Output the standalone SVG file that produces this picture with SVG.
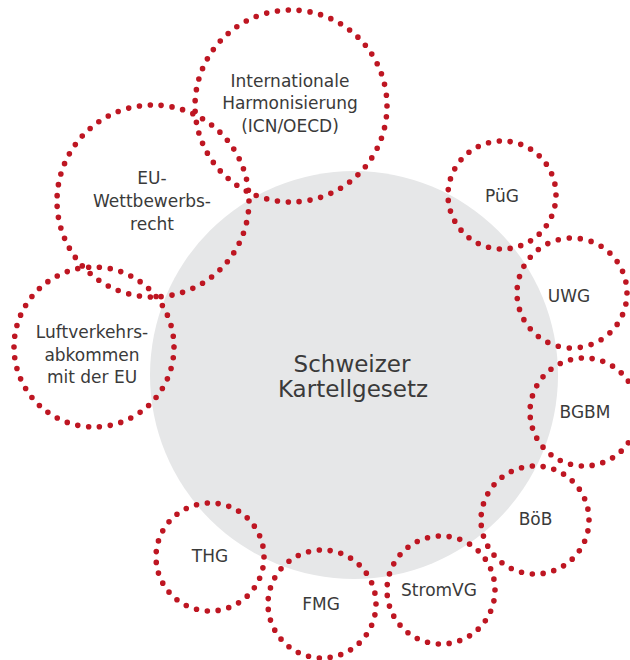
<svg xmlns="http://www.w3.org/2000/svg" width="630" height="660" viewBox="0 0 630 660">
<style>
.bg{fill:#ffffff}
.core{fill:#e6e7e8}
.ring{fill:none;stroke:#be1622;stroke-width:5.6;stroke-linecap:round;stroke-dasharray:0 1}
.lbl{font-family:"DejaVu Sans",sans-serif;font-size:17px;fill:#3a3a3a;text-anchor:middle}
.main{font-family:"DejaVu Sans",sans-serif;font-size:23px;fill:#3a3a3a;text-anchor:middle}
</style>
<rect class="bg" x="0" y="0" width="630" height="660"/>
<g id="kartellgesetz">
<circle class="core" cx="354" cy="375" r="204"/>
<text class="main" x="352" y="372">Schweizer</text>
<text class="main" x="353" y="397">Kartellgesetz</text>
</g>
<g id="international">
<circle class="ring" cx="291" cy="106" r="96" pathLength="55"/>
<text class="lbl" x="290" y="87">Internationale</text>
<text class="lbl" x="290" y="109">Harmonisierung</text>
<text class="lbl" x="290" y="132">(ICN/OECD)</text>
</g>
<g id="eu-wettbewerbsrecht">
<circle class="ring" cx="153" cy="201" r="96" pathLength="55"/>
<text class="lbl" x="152" y="184">EU-</text>
<text class="lbl" x="152" y="207">Wettbewerbs-</text>
<text class="lbl" x="152" y="230">recht</text>
</g>
<g id="luftverkehrsabkommen">
<circle class="ring" cx="94" cy="347" r="80" pathLength="46"/>
<text class="lbl" x="92" y="338">Luftverkehrs-</text>
<text class="lbl" x="92" y="360.5">abkommen</text>
<text class="lbl" x="92" y="383">mit der EU</text>
</g>
<g id="pug">
<circle class="ring" cx="502" cy="195" r="54" pathLength="31"/>
<text class="lbl" x="502" y="202">PüG</text>
</g>
<g id="uwg">
<circle class="ring" cx="572" cy="293" r="55" pathLength="31"/>
<text class="lbl" x="569" y="302">UWG</text>
</g>
<g id="bgbm">
<circle class="ring" cx="584" cy="412" r="54" pathLength="31"/>
<text class="lbl" x="585" y="418">BGBM</text>
</g>
<g id="bob">
<circle class="ring" cx="535" cy="520" r="54" pathLength="31"/>
<text class="lbl" x="535.5" y="525">BöB</text>
</g>
<g id="stromvg">
<circle class="ring" cx="441" cy="590" r="54" pathLength="31"/>
<text class="lbl" x="439" y="596">StromVG</text>
</g>
<g id="fmg">
<circle class="ring" cx="322" cy="604" r="54" pathLength="31"/>
<text class="lbl" x="321" y="610">FMG</text>
</g>
<g id="thg">
<circle class="ring" cx="210" cy="557" r="54" pathLength="31"/>
<text class="lbl" x="210" y="562">THG</text>
</g>
</svg>
